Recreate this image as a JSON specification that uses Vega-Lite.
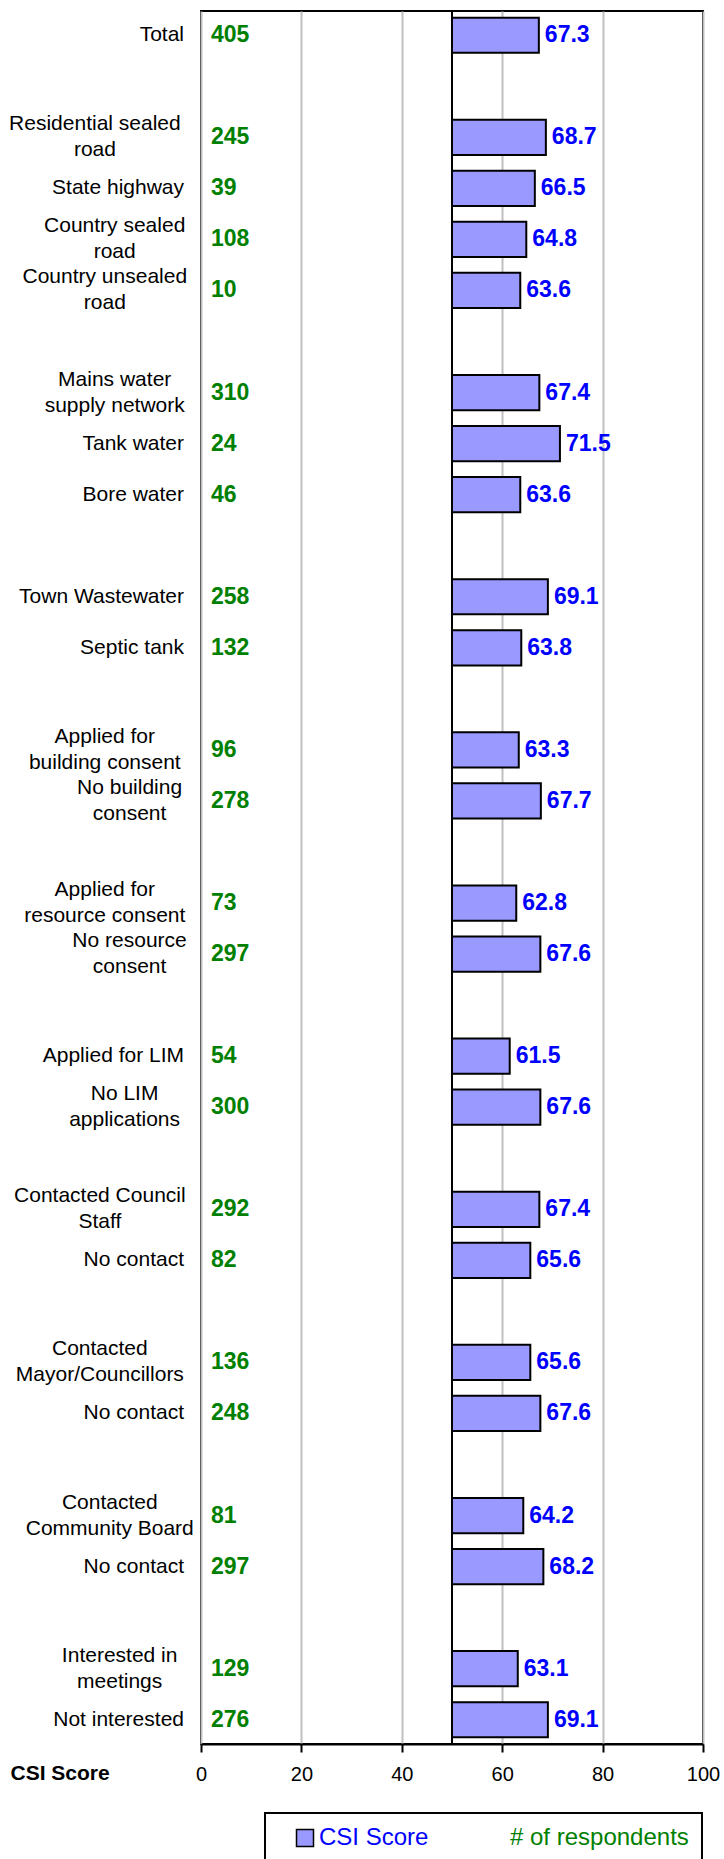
{
  "$schema": "https://vega.github.io/schema/vega-lite/v6.json",
  "autosize": "none",
  "padding": {"left": 201, "top": 11, "right": 21, "bottom": 115},
  "width": 502,
  "height": 1733,
  "background": "white",
  "config": {
    "font": "Liberation Sans",
    "view": {"stroke": "black", "strokeWidth": 2}
  },
  "data": {
    "values": [
      {"key": "00", "label": ["Total"], "n": 405, "csi": 67.3},
      {"key": "02", "label": ["Residential sealed", "road"], "n": 245, "csi": 68.7},
      {"key": "03", "label": ["State highway"], "n": 39, "csi": 66.5},
      {"key": "04", "label": ["Country sealed", "road"], "n": 108, "csi": 64.8},
      {"key": "05", "label": ["Country unsealed", "road"], "n": 10, "csi": 63.6},
      {"key": "07", "label": ["Mains water", "supply network"], "n": 310, "csi": 67.4},
      {"key": "08", "label": ["Tank water"], "n": 24, "csi": 71.5},
      {"key": "09", "label": ["Bore water"], "n": 46, "csi": 63.6},
      {"key": "11", "label": ["Town Wastewater"], "n": 258, "csi": 69.1},
      {"key": "12", "label": ["Septic tank"], "n": 132, "csi": 63.8},
      {"key": "14", "label": ["Applied for", "building consent"], "n": 96, "csi": 63.3},
      {"key": "15", "label": ["No building", "consent"], "n": 278, "csi": 67.7},
      {"key": "17", "label": ["Applied for", "resource consent"], "n": 73, "csi": 62.8},
      {"key": "18", "label": ["No resource", "consent"], "n": 297, "csi": 67.6},
      {"key": "20", "label": ["Applied for LIM"], "n": 54, "csi": 61.5},
      {"key": "21", "label": ["No LIM", "applications"], "n": 300, "csi": 67.6},
      {"key": "23", "label": ["Contacted Council", "Staff"], "n": 292, "csi": 67.4},
      {"key": "24", "label": ["No contact"], "n": 82, "csi": 65.6},
      {"key": "26", "label": ["Contacted", "Mayor/Councillors"], "n": 136, "csi": 65.6},
      {"key": "27", "label": ["No contact"], "n": 248, "csi": 67.6},
      {"key": "29", "label": ["Contacted", "Community Board"], "n": 81, "csi": 64.2},
      {"key": "30", "label": ["No contact"], "n": 297, "csi": 68.2},
      {"key": "32", "label": ["Interested in", "meetings"], "n": 129, "csi": 63.1},
      {"key": "33", "label": ["Not interested"], "n": 276, "csi": 69.1}
    ]
  },
  "layer": [
    {
      "mark": {"type": "bar", "stroke": "black", "strokeWidth": 2},
      "encoding": {
        "y": {
          "field": "key",
          "type": "nominal",
          "scale": {
            "domain": ["00", "01", "02", "03", "04", "05", "06", "07", "08", "09", "10", "11", "12", "13", "14", "15", "16", "17", "18", "19", "20", "21", "22", "23", "24", "25", "26", "27", "28", "29", "30", "31", "32", "33"],
            "paddingInner": 0.31,
            "paddingOuter": 0.13
          },
          "axis": null
        },
        "x": {
          "field": "csi",
          "type": "quantitative",
          "scale": {"domain": [0, 100], "nice": false, "zero": false},
          "axis": {
            "values": [0, 20, 40, 60, 80, 100],
            "grid": true,
            "gridColor": "#C0C0C0",
            "gridWidth": 2,
            "domainColor": "black",
            "domainWidth": 2,
            "tickColor": "black",
            "tickWidth": 2,
            "tickSize": 8,
            "labelFontSize": 20,
            "labelColor": "black",
            "labelPadding": 12,
            "labelFlush": false,
            "title": "CSI Score",
            "titleFontSize": 21,
            "titleFontWeight": "bold",
            "titleColor": "black",
            "titleX": -191,
            "titleY": 29,
            "titleAlign": "left",
            "titleBaseline": "middle",
            "titleAngle": 0
          }
        },
        "x2": {"datum": 50},
        "color": {
          "datum": "CSI Score",
          "type": "nominal",
          "scale": {"domain": ["CSI Score", "# of respondents"], "range": ["#9999FF", "#008000"]},
          "legend": {
            "title": null,
            "orient": "none",
            "direction": "horizontal",
            "legendX": 64,
            "legendY": 1802,
            "padding": 13,
            "strokeColor": "black",
            "fillColor": "white",
            "symbolType": "square",
            "symbolSize": 289,
            "symbolOffset": 15,
            "symbolStrokeColor": "black",
            "symbolStrokeWidth": 1.5,
            "symbolOpacity": {"expr": "datum.value === 'CSI Score' ? 1 : 0"},
            "labelColor": {"expr": "datum.value === 'CSI Score' ? '#0000FF' : '#008000'"},
            "labelFontSize": 24,
            "labelOffset": 2,
            "labelLimit": 400,
            "columnPadding": 40,
            "encode": {
              "legend": {"update": {"strokeWidth": {"value": 2}}}
            }
          }
        }
      }
    },
    {
      "mark": {"type": "rule", "color": "black", "strokeWidth": 2},
      "encoding": {
        "x": {"datum": 50, "type": "quantitative"}
      }
    },
    {
      "mark": {
        "type": "text",
        "baseline": "middle",
        "fontSize": 21,
        "lineHeight": 26,
        "color": "black",
        "align": {"expr": "length(datum.label) > 1 ? 'center' : 'right'"},
        "dy": {"expr": "length(datum.label) > 1 ? -13 : 0"},
        "dx": {"expr": "length(datum.label) > 1 ? -17 - 4.95 * max(length(join(datum.label, '')) - length(peek(datum.label)), length(peek(datum.label))) : -17"}
      },
      "encoding": {
        "y": {"field": "key", "type": "nominal"},
        "x": {"datum": 0, "type": "quantitative"},
        "text": {"field": "label"}
      }
    },
    {
      "mark": {"type": "text", "align": "left", "baseline": "middle", "dx": 10, "fontSize": 23, "fontWeight": "bold"},
      "encoding": {
        "y": {"field": "key", "type": "nominal"},
        "x": {"datum": 0, "type": "quantitative"},
        "text": {"field": "n", "type": "quantitative"},
        "color": {"datum": "# of respondents", "type": "nominal"}
      }
    },
    {
      "mark": {"type": "text", "align": "left", "baseline": "middle", "dx": 6, "fontSize": 23, "fontWeight": "bold", "fill": "#0000FF"},
      "encoding": {
        "y": {"field": "key", "type": "nominal"},
        "x": {"field": "csi", "type": "quantitative"},
        "text": {"field": "csi", "type": "quantitative", "format": ".1f"}
      }
    }
  ]
}
